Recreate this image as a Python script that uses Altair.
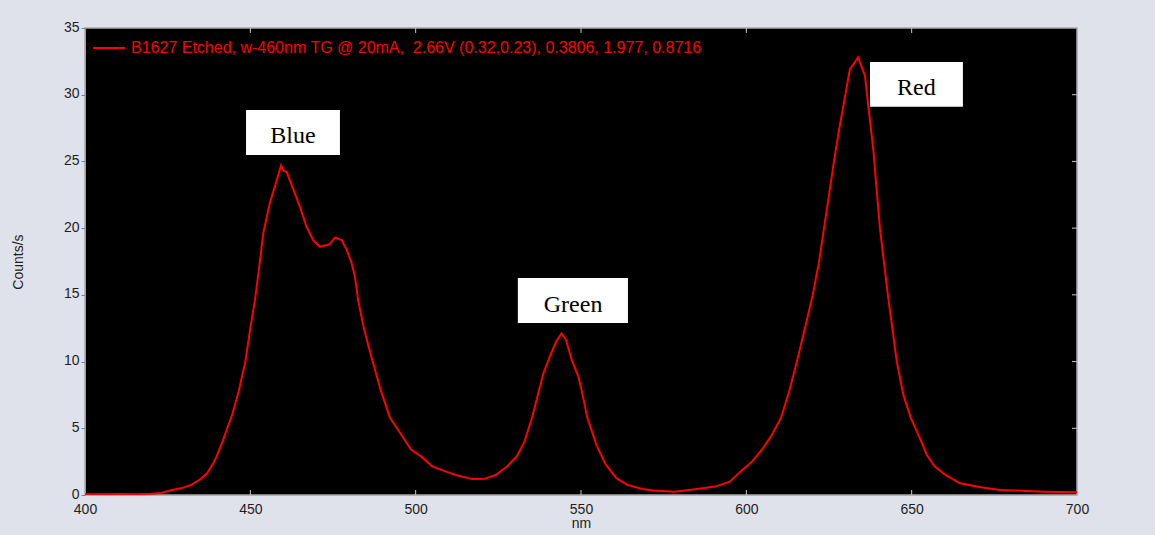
import altair as alt
import pandas as pd

# Spectrum (nm, counts/s)
wavelength = [400, 405, 410, 415, 420, 423, 426, 429, 432, 435, 437, 439.3, 441.6, 443, 444.5,
              446.5, 448.5, 450, 451.4, 452.7, 453.9, 455.9, 457.5, 459.3, 460, 461, 463, 465,
              467, 469, 471, 472.5, 474, 475.6, 477.6, 479.1, 480.6, 481.6, 482.6, 484.5, 487,
              489.5, 492.2, 495.7, 498.6, 502.1, 505, 509, 512.6, 517.2, 520.7, 524.2, 527.7,
              530.6, 532.9, 535.2, 538.6, 540.6, 542.5, 544.1, 545.5, 547.2, 549.2, 550.5, 551.9,
              554.6, 557.4, 560.7, 564, 568.5, 571.8, 578.4, 585, 590.6, 595, 598.3, 601.7, 605,
              607.7, 610.5, 613, 615.3, 618, 620.1, 622, 623.5, 625, 626.5, 628, 629.3, 631.3,
              633, 633.8, 635.9, 636.9, 638.4, 639.2, 640.4, 642.8, 645.5, 647.5, 649.7, 652.4,
              654.6, 656.9, 660.2, 664.6, 671.3, 676.8, 684.5, 690, 698.9, 700]
counts = [0.05, 0.05, 0.08, 0.05, 0.1, 0.15, 0.35, 0.5, 0.75, 1.2, 1.65, 2.6, 4.0, 5.0, 6.0,
          7.8, 10.0, 12.5, 14.6, 17.1, 19.6, 21.9, 23.2, 24.7, 24.3, 24.2, 22.9, 21.6,
          20.1, 19.1, 18.6, 18.7, 18.8, 19.3, 19.1, 18.4, 17.4, 16.4, 14.6, 12.3, 10.0,
          7.8, 5.8, 4.5, 3.4, 2.8, 2.15, 1.77, 1.46, 1.19, 1.21, 1.5, 2.15,
          2.9, 4.0, 5.8, 9.1, 10.4, 11.5, 12.1, 11.6, 10.1, 8.9, 7.5, 5.8,
          3.8, 2.3, 1.26, 0.76, 0.45, 0.33, 0.25, 0.45, 0.63, 1.0, 1.77, 2.5, 3.5,
          4.5, 5.8, 7.8, 10.0, 12.8, 15.0, 17.5, 20.0, 22.5, 25.0, 27.3, 29.1, 31.9,
          32.5, 32.8, 31.4, 29.1, 25.9, 23.5, 20.0, 15.0, 10.0, 7.5, 5.8, 4.3,
          3.0, 2.15, 1.5, 0.88, 0.56, 0.38, 0.3, 0.25, 0.2, 0.2]

series_name = "B1627 Etched, w-460nm TG @ 20mA, \u00a02.66V (0.32,0.23), 0.3806, 1.977, 0.8716"

x_ticks = [400, 450, 500, 550, 600, 650, 700]
y_ticks = [0, 5, 10, 15, 20, 25, 30, 35]
inner_x_ticks = [450, 500, 550, 600, 650]
inner_y_ticks = [5, 10, 15, 20, 25, 30]

label_names = ["Blue", "Green", "Red"]
label_x = [462.9, 547.6, 651.4]
label_y = [26.35, 13.74, 29.99]
box_x0 = [448.7, 530.9, 637.4]
box_x1 = [477.1, 564.2, 665.5]
box_y0 = [25.49, 12.89, 29.09]
box_y1 = [28.86, 16.27, 32.46]

W, H = 992, 467

spec = pd.DataFrame({"nm": wavelength, "counts": counts, "series": series_name})
labels = pd.DataFrame({"name": label_names, "x": label_x, "y": label_y,
                       "x0": box_x0, "x1": box_x1, "y0": box_y0, "y1": box_y1})
xt = pd.DataFrame({"v": inner_x_ticks})
yt = pd.DataFrame({"v": inner_y_ticks})

xscale = alt.Scale(domain=[400, 700], nice=False, zero=False)
yscale = alt.Scale(domain=[0, 35], nice=False)

line = alt.Chart(spec).mark_line(strokeWidth=2, clip=True).encode(
    x=alt.X("nm:Q", scale=xscale,
            axis=alt.Axis(values=x_ticks, ticks=False, title="nm", labelPadding=7,
                          labelFlush=False, labelOverlap=False,
                          titlePadding=0, grid=False, domainColor="#b0b0b0")),
    y=alt.Y("counts:Q", scale=yscale,
            axis=alt.Axis(values=y_ticks, tickSize=4, title="Counts/s", labelPadding=2,
                          labelFlush=False, labelOverlap=False, labelOffset=-1,
                          titlePadding=38, grid=False, domainColor="#a0a0a0",
                          tickColor="#808080")),
    color=alt.Color("series:N",
                    scale=alt.Scale(domain=[series_name], range=["#ff0000"]),
                    legend=alt.Legend(title=None, orient="none", legendX=7, legendY=3,
                                      symbolType="stroke", symbolSize=1024,
                                      symbolStrokeWidth=2, labelFontSize=16,
                                      labelColor="#ff0000", labelOffset=5, padding=0,
                                      labelFont="Liberation Sans", labelLimit=900)),
)

bottom_ticks = alt.Chart(xt).mark_rule(color="#c8c8c8", strokeWidth=1).encode(
    x=alt.X("v:Q", scale=xscale), y=alt.value(H - 5), y2=alt.value(H))
top_ticks = alt.Chart(xt).mark_rule(color="#c8c8c8", strokeWidth=1).encode(
    x=alt.X("v:Q", scale=xscale), y=alt.value(0), y2=alt.value(5))
right_ticks = alt.Chart(yt).mark_rule(color="#c8c8c8", strokeWidth=1).encode(
    y=alt.Y("v:Q", scale=yscale), x=alt.value(W - 5), x2=alt.value(W))

boxes = alt.Chart(labels).mark_rect(color="white").encode(
    x=alt.X("x0:Q", scale=xscale), x2="x1:Q",
    y=alt.Y("y0:Q", scale=yscale), y2="y1:Q")
texts = alt.Chart(labels).mark_text(font="Liberation Serif", fontSize=24, color="black",
                                    baseline="alphabetic", align="center").encode(
    x=alt.X("x:Q", scale=xscale), y=alt.Y("y:Q", scale=yscale), text="name:N")

chart = alt.layer(line, bottom_ticks, top_ticks, right_ticks, boxes, texts).properties(
    width=W, height=H,
    autosize=alt.AutoSizeParams(type="none"),
    padding={"left": 85, "top": 28, "right": 78, "bottom": 40},
    background="#dfe2eb",
).configure_view(
    fill="black", stroke="#a8a8a8", strokeWidth=1.5
).configure_axis(
    labelFont="Liberation Sans", labelFontSize=14, labelColor="#1e1e1e",
    titleFont="Liberation Sans", titleFontSize=14, titleFontWeight="normal",
    titleColor="#1e1e1e"
)

chart.save("out.html", embed_options={"renderer": "svg", "actions": False})
